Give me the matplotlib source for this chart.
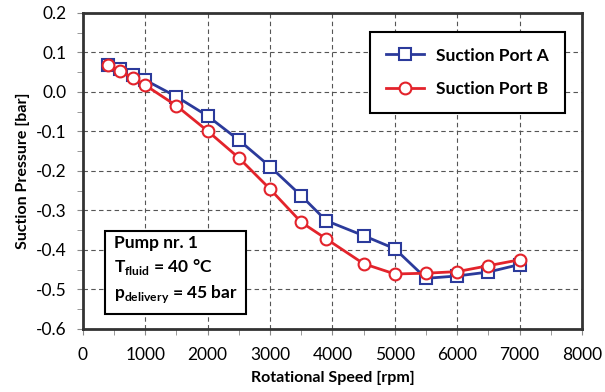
import numpy as np
import matplotlib.pyplot as plt
from matplotlib.ticker import MultipleLocator, FormatStrFormatter

plt.rcParams['font.family'] = ['Lato', 'DejaVu Sans']
plt.rcParams['axes.unicode_minus'] = False
plt.rcParams['mathtext.fontset'] = 'custom'
plt.rcParams['mathtext.rm'] = 'Lato'
plt.rcParams['mathtext.bf'] = 'Lato:bold'

# --- data ---
speed = [400, 600, 800, 1000, 1500, 2000, 2500, 3000, 3500, 3900,
         4500, 5000, 5500, 6000, 6500, 7000]
port_a = [0.067, 0.058, 0.043, 0.030, -0.012, -0.061, -0.122, -0.189, -0.263, -0.326,
          -0.364, -0.397, -0.472, -0.466, -0.456, -0.437]
port_b = [0.067, 0.052, 0.036, 0.017, -0.035, -0.099, -0.167, -0.246, -0.330, -0.372,
          -0.435, -0.461, -0.459, -0.455, -0.440, -0.425]

blue = '#2B3A9B'
red = '#E3232B'

fig = plt.figure(figsize=(6.05, 3.92), dpi=100)
ax = fig.add_axes([0.137, 0.161, 0.825, 0.806])

ax.plot(speed, port_a, color=blue, lw=2, marker='s', ms=8.5, mfc='white',
        mec=blue, mew=1.5, label='Suction Port A', zorder=3)
ax.plot(speed, port_b, color=red, lw=2, marker='o', ms=8.5, mfc='white',
        mec=red, mew=1.5, label='Suction Port B', zorder=4)

ax.set_xlim(0, 8000)
ax.set_ylim(-0.6, 0.2)
ax.xaxis.set_major_locator(MultipleLocator(1000))
ax.xaxis.set_minor_locator(MultipleLocator(500))
ax.yaxis.set_major_locator(MultipleLocator(0.1))
ax.yaxis.set_minor_locator(MultipleLocator(0.05))
ax.yaxis.set_major_formatter(FormatStrFormatter('%.1f'))

ax.grid(True, which='major', color='#555555', ls=(0, (4, 3)), lw=0.8)
ax.tick_params(which='both', direction='out', color='#888888', labelsize=12.5)
ax.tick_params(which='major', length=4)
ax.tick_params(axis='x', which='major', pad=9)
ax.tick_params(axis='y', which='major', pad=8)
ax.tick_params(which='minor', length=4)
for s in ax.spines.values():
    s.set_linewidth(2)
    s.set_color('#333333')

ax.set_xlabel('Rotational Speed [rpm]', fontsize=11.5, fontweight='bold', labelpad=6)
ax.set_ylabel('Suction Pressure [bar]', fontsize=11.5, fontweight='bold', labelpad=4)

leg = ax.legend(loc='upper right', bbox_to_anchor=(0.965, 0.94), fancybox=False,
                edgecolor='black', framealpha=1, borderpad=0.9, labelspacing=1.0,
                handlelength=2.2, handletextpad=0.7, borderaxespad=0,
                prop={'weight': 'bold', 'size': 12.5})
leg.get_frame().set_linewidth(1.5)

ax.text(0.062, 0.186,
        'Pump nr. 1\n$\\mathbf{T}_{\\mathbf{fluid}}$ = 40 °C\n$\\mathbf{p}_{\\mathbf{delivery}}$ = 45 bar',
        transform=ax.transAxes, fontsize=12.5, fontweight='bold', va='center', ha='left',
        linespacing=1.4,
        bbox=dict(boxstyle='square,pad=0.5', fc='white', ec='black', lw=1.5), zorder=5)

fig.savefig('out.png', dpi=100)
